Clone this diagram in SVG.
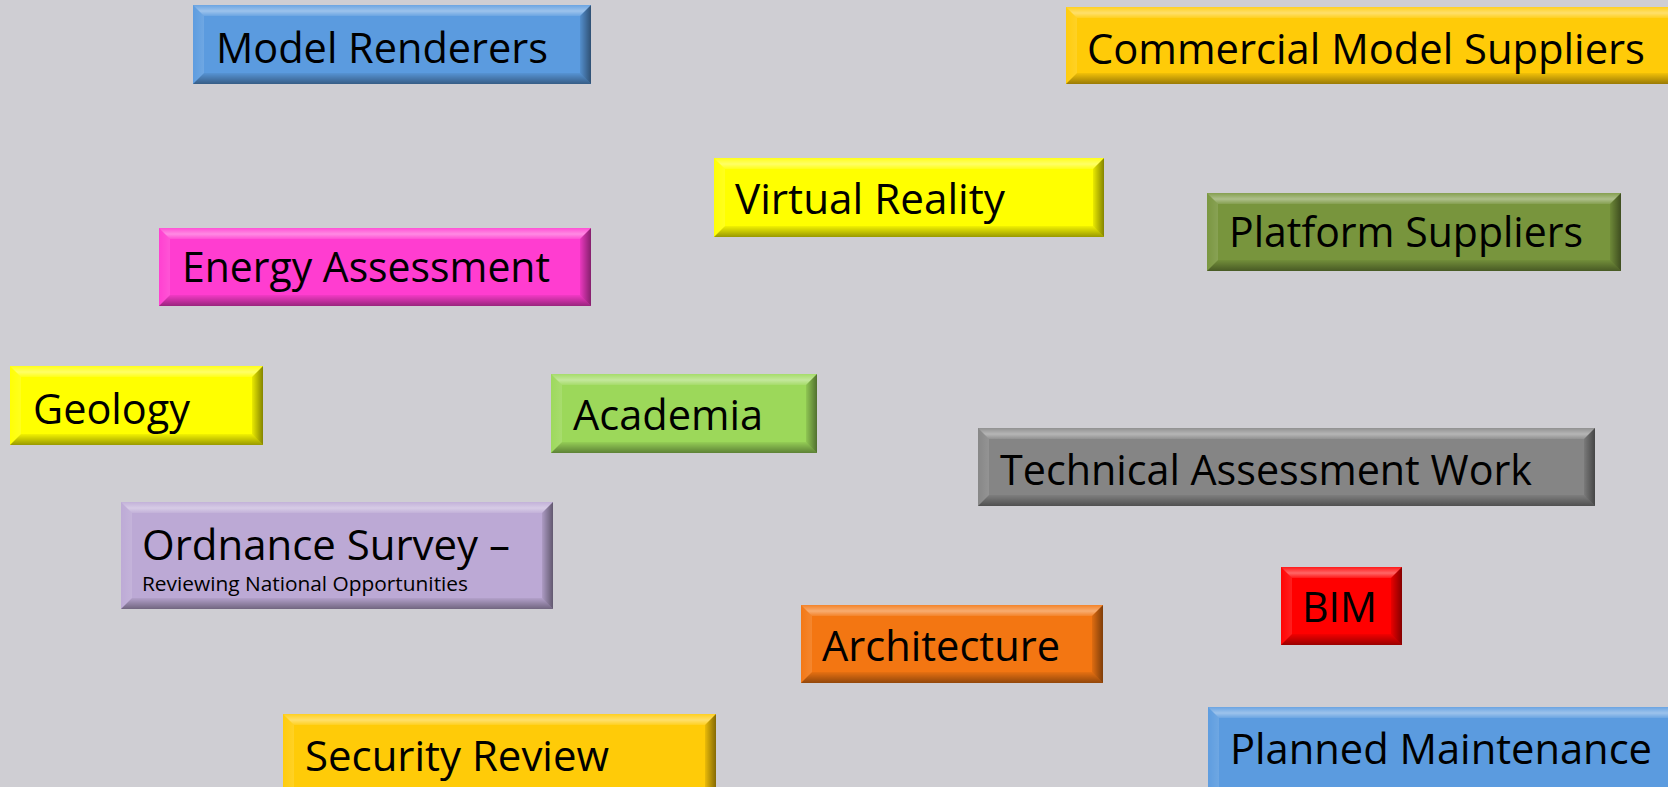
<svg xmlns="http://www.w3.org/2000/svg" width="1668" height="787" viewBox="0 0 1668 787">
<defs>
<linearGradient id="gTop" x1="0" y1="0" x2="0" y2="1"><stop offset="0" stop-color="#fff" stop-opacity="0.1"/><stop offset="0.55" stop-color="#fff" stop-opacity="0.4"/><stop offset="1" stop-color="#fff" stop-opacity="0.1"/></linearGradient>
<linearGradient id="gLeft" x1="0" y1="0" x2="1" y2="0"><stop offset="0" stop-color="#fff" stop-opacity="0.02"/><stop offset="1" stop-color="#fff" stop-opacity="0.12"/></linearGradient>
<linearGradient id="gBot" x1="0" y1="0" x2="0" y2="1"><stop offset="0" stop-color="#000" stop-opacity="0.05"/><stop offset="1" stop-color="#000" stop-opacity="0.4"/></linearGradient>
<linearGradient id="gRight" x1="0" y1="0" x2="1" y2="0"><stop offset="0" stop-color="#000" stop-opacity="0.08"/><stop offset="1" stop-color="#000" stop-opacity="0.48"/></linearGradient>
</defs>
<style>
.t{font-family:"Open Sans","Noto Sans","Liberation Sans",sans-serif;font-size:42px;fill:#000;}
.s{font-family:"Open Sans","Noto Sans","Liberation Sans",sans-serif;font-size:20px;fill:#000;}
.bt{fill:url(#gTop);} .bl{fill:url(#gLeft);} .bb{fill:url(#gBot);} .br{fill:url(#gRight);}
.blue{fill:#5B9BDF;} .gold{fill:#FFCB08;} .yel{fill:#FFFF00;} .olive{fill:#78953D;} .mag{fill:#FF3DD0;} .lime{fill:#9CD85A;} .grey{fill:#858585;} .lav{fill:#BCA9D5;} .red{fill:#FF0000;} .orange{fill:#F37612;}
</style>
<rect x="0" y="0" width="1668" height="787" fill="#CFCED3"/>
<g id="connectors"></g>

<g id="model-renderers">
<rect class="blue" x="193" y="5" width="398" height="79"/>
<polygon class="bt" points="193,5 591,5 580,16 204,16"/>
<polygon class="bl" points="193,5 204,16 204,73 193,84"/>
<polygon class="bb" points="193,84 204,73 580,73 591,84"/>
<polygon class="br" points="591,5 591,84 580,73 580,16"/>
<text class="t" x="216" y="63" textLength="332" lengthAdjust="spacingAndGlyphs">Model Renderers</text>
</g>

<g id="commercial-model-suppliers">
<rect class="gold" x="1066" y="7" width="620" height="77"/>
<polygon class="bt" points="1066,7 1686,7 1675,18 1077,18"/>
<polygon class="bl" points="1066,7 1077,18 1077,73 1066,84"/>
<polygon class="bb" points="1066,84 1077,73 1675,73 1686,84"/>
<text class="t" x="1087" y="64" textLength="558" lengthAdjust="spacingAndGlyphs">Commercial Model Suppliers</text>
</g>

<g id="virtual-reality">
<rect class="yel" x="714" y="158" width="390" height="79"/>
<polygon class="bt" points="714,158 1104,158 1093,169 725,169"/>
<polygon class="bl" points="714,158 725,169 725,226 714,237"/>
<polygon class="bb" points="714,237 725,226 1093,226 1104,237"/>
<polygon class="br" points="1104,158 1104,237 1093,226 1093,169"/>
<text class="t" x="735" y="214" textLength="270" lengthAdjust="spacingAndGlyphs">Virtual Reality</text>
</g>

<g id="platform-suppliers">
<rect class="olive" x="1207" y="193" width="414" height="78"/>
<polygon class="bt" points="1207,193 1621,193 1610,204 1218,204"/>
<polygon class="bl" points="1207,193 1218,204 1218,260 1207,271"/>
<polygon class="bb" points="1207,271 1218,260 1610,260 1621,271"/>
<polygon class="br" points="1621,193 1621,271 1610,260 1610,204"/>
<text class="t" x="1229" y="247" textLength="354" lengthAdjust="spacingAndGlyphs">Platform Suppliers</text>
</g>

<g id="energy-assessment">
<rect class="mag" x="159" y="228" width="432" height="78"/>
<polygon class="bt" points="159,228 591,228 580,239 170,239"/>
<polygon class="bl" points="159,228 170,239 170,295 159,306"/>
<polygon class="bb" points="159,306 170,295 580,295 591,306"/>
<polygon class="br" points="591,228 591,306 580,295 580,239"/>
<text class="t" x="182" y="282" textLength="368" lengthAdjust="spacingAndGlyphs">Energy Assessment</text>
</g>

<g id="geology">
<rect class="yel" x="10" y="366" width="253" height="79"/>
<polygon class="bt" points="10,366 263,366 252,377 21,377"/>
<polygon class="bl" points="10,366 21,377 21,434 10,445"/>
<polygon class="bb" points="10,445 21,434 252,434 263,445"/>
<polygon class="br" points="263,366 263,445 252,434 252,377"/>
<text class="t" x="33" y="424" textLength="157" lengthAdjust="spacingAndGlyphs">Geology</text>
</g>

<g id="academia">
<rect class="lime" x="551" y="374" width="266" height="79"/>
<polygon class="bt" points="551,374 817,374 806,385 562,385"/>
<polygon class="bl" points="551,374 562,385 562,442 551,453"/>
<polygon class="bb" points="551,453 562,442 806,442 817,453"/>
<polygon class="br" points="817,374 817,453 806,442 806,385"/>
<text class="t" x="573" y="430" textLength="190" lengthAdjust="spacingAndGlyphs">Academia</text>
</g>

<g id="technical-assessment-work">
<rect class="grey" x="978" y="428" width="617" height="78"/>
<polygon class="bt" points="978,428 1595,428 1584,439 989,439"/>
<polygon class="bl" points="978,428 989,439 989,495 978,506"/>
<polygon class="bb" points="978,506 989,495 1584,495 1595,506"/>
<polygon class="br" points="1595,428 1595,506 1584,495 1584,439"/>
<text class="t" x="1000" y="485" textLength="532" lengthAdjust="spacingAndGlyphs">Technical Assessment Work</text>
</g>

<g id="ordnance-survey">
<rect class="lav" x="121" y="502" width="432" height="107"/>
<polygon class="bt" points="121,502 553,502 542,513 132,513"/>
<polygon class="bl" points="121,502 132,513 132,598 121,609"/>
<polygon class="bb" points="121,609 132,598 542,598 553,609"/>
<polygon class="br" points="553,502 553,609 542,598 542,513"/>
<text class="t" x="142" y="560" textLength="368" lengthAdjust="spacingAndGlyphs">Ordnance Survey –</text>
<text class="s" x="142" y="591" textLength="326" lengthAdjust="spacingAndGlyphs">Reviewing National Opportunities</text>
</g>

<g id="bim">
<rect class="red" x="1281" y="567" width="121" height="78"/>
<polygon class="bt" points="1281,567 1402,567 1391,578 1292,578"/>
<polygon class="bl" points="1281,567 1292,578 1292,634 1281,645"/>
<polygon class="bb" points="1281,645 1292,634 1391,634 1402,645"/>
<polygon class="br" points="1402,567 1402,645 1391,634 1391,578"/>
<text class="t" x="1302" y="622" textLength="75" lengthAdjust="spacingAndGlyphs">BIM</text>
</g>

<g id="architecture">
<rect class="orange" x="801" y="605" width="302" height="78"/>
<polygon class="bt" points="801,605 1103,605 1092,616 812,616"/>
<polygon class="bl" points="801,605 812,616 812,672 801,683"/>
<polygon class="bb" points="801,683 812,672 1092,672 1103,683"/>
<polygon class="br" points="1103,605 1103,683 1092,672 1092,616"/>
<text class="t" x="822" y="661" textLength="238" lengthAdjust="spacingAndGlyphs">Architecture</text>
</g>

<g id="security-review">
<rect class="gold" x="283" y="714" width="433" height="90"/>
<polygon class="bt" points="283,714 716,714 705,725 294,725"/>
<polygon class="bl" points="283,714 294,725 294,804 283,804"/>
<polygon class="br" points="716,714 716,804 705,804 705,725"/>
<text class="t" x="305" y="771" textLength="304" lengthAdjust="spacingAndGlyphs">Security Review</text>
</g>

<g id="planned-maintenance">
<rect class="blue" x="1208" y="707" width="480" height="90"/>
<polygon class="bt" points="1208,707 1688,707 1677,718 1219,718"/>
<polygon class="bl" points="1208,707 1219,718 1219,797 1208,797"/>
<text class="t" x="1230" y="764" textLength="422" lengthAdjust="spacingAndGlyphs">Planned Maintenance</text>
</g>
</svg>
